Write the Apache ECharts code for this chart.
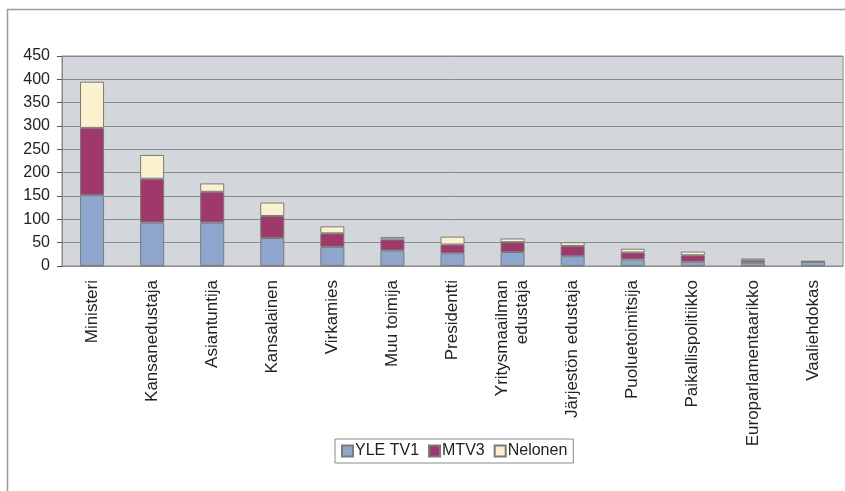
<!DOCTYPE html>
<html>
<head>
<meta charset="utf-8">
<script src="https://cdn.jsdelivr.net/npm/echarts@6/dist/echarts.min.js"></script>
<style>
html, body { margin: 0; padding: 0; background: #fff; }
#chart { width: 845px; height: 491px; }
</style>
</head>
<body>
<div id="chart"></div>
<script>
var categories = ["Ministeri", "Kansanedustaja", "Asiantuntija", "Kansalainen", "Virkamies",
    "Muu toimija", "Presidentti", "Yritysmaailman\nedustaja", "Järjestön edustaja",
    "Puoluetoimitsija", "Paikallispolitiikko", "Europarlamentaarikko", "Vaaliehdokas"];
var yleTv1 = [152, 93, 93, 60, 41, 33, 27, 30, 21, 14, 9, 7, 9];
var mtv3 = [144, 94, 66, 47, 29, 24, 19, 21, 22, 15, 14, 5, 1];
var nelonen = [99, 51, 18, 29, 15, 5, 17, 8, 8, 8, 8, 4, 0];

loadChart();

function loadChart() {
    var chart = echarts.init(document.getElementById('chart'));
    var font = 'Liberation Sans, Arial, sans-serif';

    function barSeries(name, data, color) {
        return {
            name: name,
            type: 'bar',
            stack: 'total',
            barWidth: '40%',
            data: data,
            itemStyle: { color: color, borderColor: '#7a7a7a', borderWidth: 1 }
        };
    }

    var option = {
        animation: false,
        textStyle: { fontFamily: font },
        graphic: [{
            type: 'rect',
            shape: { x: 7.5, y: 9.5, width: 900, height: 600 },
            style: { fill: 'none', stroke: '#9a9a9a', lineWidth: 1.5 },
            silent: true
        }],
        grid: {
            left: 62, top: 56, right: 2, bottom: 225,
            show: true,
            backgroundColor: '#d3d6da',
            borderColor: '#8a8a8a',
            borderWidth: 1
        },
        legend: {
            left: 335, top: 439,
            itemWidth: 11, itemHeight: 11, itemGap: 9,
            padding: [4, 6, 4, 6],
            borderColor: '#8a8a8a', borderWidth: 1,
            icon: 'rect',
            textStyle: { fontSize: 16, color: '#222', fontFamily: font, padding: [0, 0, 0, -3] },
            data: ['YLE TV1', 'MTV3', 'Nelonen']
        },
        xAxis: {
            type: 'category',
            data: categories,
            axisLine: { lineStyle: { color: '#8a8a8a' } },
            axisTick: { length: 5, lineStyle: { color: '#555' } },
            axisLabel: {
                rotate: 90, interval: 0, margin: 14,
                fontSize: 17, color: '#222', fontFamily: font, lineHeight: 20
            }
        },
        yAxis: {
            type: 'value',
            min: 0, max: 450, interval: 50,
            axisLine: { show: true, lineStyle: { color: '#8a8a8a' } },
            axisTick: { show: true, length: 5, lineStyle: { color: '#555' } },
            axisLabel: { fontSize: 16, color: '#222', fontFamily: font, margin: 12 },
            splitLine: { lineStyle: { color: '#8a8a8a', width: 1 } }
        },
        series: [
            barSeries('YLE TV1', yleTv1, '#8ea5cc'),
            barSeries('MTV3', mtv3, '#a0396b'),
            barSeries('Nelonen', nelonen, '#fbf1cf')
        ]
    };

    chart.setOption(option);
}
</script>
</body>
</html>
